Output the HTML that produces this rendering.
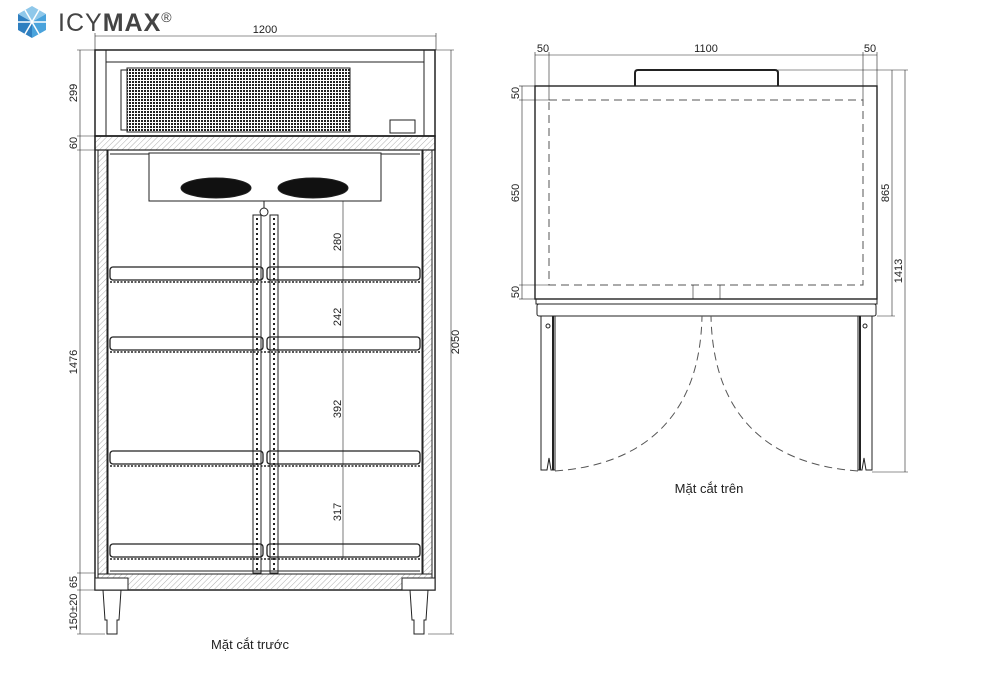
<!DOCTYPE html>
<html><head><meta charset="utf-8"><style>
html,body{margin:0;padding:0;background:#fff;}
svg{display:block;font-family:"Liberation Sans",sans-serif;}
</style></head><body>
<svg width="1000" height="678" viewBox="0 0 1000 678" xmlns="http://www.w3.org/2000/svg">
<defs>
<pattern id="h" width="4" height="4" patternUnits="userSpaceOnUse" patternTransform="rotate(45)"><line x1="0" y1="0" x2="0" y2="4" stroke="#999" stroke-width="0.8"/></pattern>
<pattern id="g" width="3" height="3" patternUnits="userSpaceOnUse"><rect width="3" height="3" fill="#fff"/><rect width="2" height="2" fill="#222"/></pattern>
</defs>
<!-- logo -->
<g transform="translate(32,22)">
<polygon points="0,-16 14,-8 0,0 -14,-8" fill="#8fc8ea"/>
<polygon points="-14,-8 0,0 0,16 -14,8" fill="#2f7fc0"/>
<polygon points="14,-8 0,0 0,16 14,8" fill="#4aa3dc"/>
<line x1="-14" y1="0" x2="14" y2="0" stroke="#fff" stroke-width="1.5"/>
<line x1="-7" y1="-12" x2="7" y2="12" stroke="#fff" stroke-width="1.5"/>
<line x1="7" y1="-12" x2="-7" y2="12" stroke="#fff" stroke-width="1.5"/>
</g>
<text x="58" y="31" font-size="25" fill="#444" letter-spacing="1">ICY<tspan font-weight="bold">MAX</tspan><tspan font-size="14" dy="-9">®</tspan></text>

<g stroke="#222" fill="none" stroke-width="1">
<!-- FRONT VIEW -->
<line x1="95" y1="36" x2="436" y2="36" stroke-width="0.6"/>
<line x1="95" y1="33" x2="95" y2="50" stroke-width="0.6"/><line x1="436" y1="33" x2="436" y2="50" stroke-width="0.6"/>
<rect x="95" y="50" width="340" height="86" stroke-width="1.5"/>
<line x1="106" y1="50" x2="106" y2="136"/><line x1="424" y1="50" x2="424" y2="136"/>
<line x1="106" y1="62" x2="424" y2="62"/>
<rect x="127" y="68" width="223" height="64" fill="url(#g)" stroke-width="1"/>
<rect x="121" y="70" width="6" height="60"/>
<rect x="390" y="120" width="25" height="13"/>
<!-- top slab -->
<rect x="95" y="136" width="340" height="14" fill="url(#h)" stroke-width="1.2"/>
<!-- body -->
<rect x="95" y="136" width="340" height="454" stroke-width="1.5"/>
<rect x="98" y="150" width="9" height="424" fill="url(#h)"/>
<rect x="423" y="150" width="9" height="424" fill="url(#h)"/>
<rect x="108" y="150" width="314" height="424"/>
<line x1="110" y1="154" x2="420" y2="154"/>
<!-- evaporator -->
<rect x="149" y="153" width="232" height="48" fill="#fff"/>
<ellipse cx="216" cy="188" rx="35" ry="10" fill="#111"/>
<ellipse cx="313" cy="188" rx="35" ry="10" fill="#111"/>
<circle cx="264" cy="212" r="4"/><line x1="264" y1="201" x2="264" y2="208"/>
<!-- posts -->
<rect x="253" y="215" width="8" height="358"/>
<rect x="270" y="215" width="8" height="358"/>
<line x1="257" y1="218" x2="257" y2="571" stroke-dasharray="2,3" stroke-width="2"/>
<line x1="274" y1="218" x2="274" y2="571" stroke-dasharray="2,3" stroke-width="2"/>
<!-- shelves -->
<g>
<rect x="110" y="267" width="153" height="13" rx="3" stroke-width="1.3"/><rect x="267" y="267" width="153" height="13" rx="3" stroke-width="1.3"/>
<line x1="110" y1="282" x2="420" y2="282" stroke-dasharray="2,1.5" stroke-width="1.4"/>
<rect x="110" y="337" width="153" height="13" rx="3" stroke-width="1.3"/><rect x="267" y="337" width="153" height="13" rx="3" stroke-width="1.3"/>
<line x1="110" y1="352" x2="420" y2="352" stroke-dasharray="2,1.5" stroke-width="1.4"/>
<rect x="110" y="451" width="153" height="13" rx="3" stroke-width="1.3"/><rect x="267" y="451" width="153" height="13" rx="3" stroke-width="1.3"/>
<line x1="110" y1="466" x2="420" y2="466" stroke-dasharray="2,1.5" stroke-width="1.4"/>
<rect x="110" y="544" width="153" height="13" rx="3" stroke-width="1.3"/><rect x="267" y="544" width="153" height="13" rx="3" stroke-width="1.3"/>
<line x1="110" y1="559" x2="420" y2="559" stroke-dasharray="2,1.5" stroke-width="1.4"/>
<line x1="110" y1="571" x2="420" y2="571"/>
</g>
<!-- base -->
<rect x="98" y="574" width="334" height="16" fill="url(#h)"/>
<rect x="95" y="578" width="33" height="12" fill="#fff"/>
<rect x="402" y="578" width="33" height="12" fill="#fff"/>
<path d="M103 590 L121 590 L119 620 L117 620 L117 634 L107 634 L107 620 L105 620 Z"/>
<path d="M410 590 L428 590 L426 620 L424 620 L424 634 L414 634 L414 620 L412 620 Z"/>
<!-- dims front -->
<g stroke-width="0.6">
<line x1="80" y1="50" x2="80" y2="634"/>
<line x1="77" y1="50" x2="95" y2="50"/><line x1="77" y1="136" x2="95" y2="136"/><line x1="77" y1="150" x2="95" y2="150"/>
<line x1="77" y1="573" x2="95" y2="573"/><line x1="77" y1="590" x2="95" y2="590"/><line x1="77" y1="634" x2="105" y2="634"/>
<line x1="451" y1="50" x2="451" y2="634"/>
<line x1="435" y1="50" x2="454" y2="50"/><line x1="428" y1="634" x2="454" y2="634"/>
<line x1="343" y1="201" x2="343" y2="559"/>
</g>
<!-- TOP VIEW -->
<rect x="535" y="86" width="342" height="213" stroke-width="1.4"/>
<rect x="549" y="100" width="314" height="185" stroke-dasharray="8,5" stroke="#555"/>
<path d="M635 86 L635 73 Q635 70 638 70 L775 70 Q778 70 778 73 L778 86" stroke-width="2"/>
<line x1="693" y1="285" x2="693" y2="299" stroke-width="0.6"/><line x1="720" y1="285" x2="720" y2="299" stroke-width="0.6"/>
<rect x="536" y="299" width="341" height="5"/>
<rect x="537" y="304" width="339" height="12" rx="2"/>
<path d="M541 316 L555 316 L555 470 L551 470 L549 458 L547 470 L541 470 Z"/>
<line x1="553" y1="316" x2="553" y2="470" stroke-width="2"/>
<path d="M872 316 L858 316 L858 470 L862 470 L864 458 L866 470 L872 470 Z"/>
<line x1="860" y1="316" x2="860" y2="470" stroke-width="2"/>
<circle cx="548" cy="326" r="2"/><circle cx="865" cy="326" r="2"/>
<path d="M555 471 C640 465 700 420 702 316" stroke-dasharray="8,5" stroke="#555"/>
<path d="M858 471 C773 465 713 420 711 316" stroke-dasharray="8,5" stroke="#555"/>
<g stroke-width="0.6">
<line x1="535" y1="55" x2="877" y2="55"/>
<line x1="535" y1="52" x2="535" y2="86"/><line x1="549" y1="52" x2="549" y2="100"/><line x1="863" y1="52" x2="863" y2="100"/><line x1="877" y1="52" x2="877" y2="86"/>
<line x1="522" y1="86" x2="522" y2="299"/>
<line x1="519" y1="86" x2="535" y2="86"/><line x1="519" y1="100" x2="549" y2="100"/><line x1="519" y1="285" x2="549" y2="285"/><line x1="519" y1="299" x2="535" y2="299"/>
<line x1="892" y1="70" x2="892" y2="316"/><line x1="905" y1="70" x2="905" y2="472"/>
<line x1="778" y1="70" x2="908" y2="70"/><line x1="877" y1="316" x2="895" y2="316"/><line x1="872" y1="472" x2="908" y2="472"/>
</g>
</g>
<g font-size="11" fill="#222">
<text x="265" y="33" text-anchor="middle">1200</text>
<text x="706" y="52" text-anchor="middle">1100</text>
<text x="543" y="52" text-anchor="middle">50</text>
<text x="870" y="52" text-anchor="middle">50</text>
<g text-anchor="middle">
<text transform="translate(77,93) rotate(-90)">299</text>
<text transform="translate(77,143) rotate(-90)">60</text>
<text transform="translate(77,362) rotate(-90)">1476</text>
<text transform="translate(77,582) rotate(-90)">65</text>
<text transform="translate(77,612) rotate(-90)">150±20</text>
<text transform="translate(459,342) rotate(-90)">2050</text>
<text transform="translate(341,242) rotate(-90)">280</text>
<text transform="translate(341,317) rotate(-90)">242</text>
<text transform="translate(341,409) rotate(-90)">392</text>
<text transform="translate(341,512) rotate(-90)">317</text>
<text transform="translate(519,93) rotate(-90)">50</text>
<text transform="translate(519,193) rotate(-90)">650</text>
<text transform="translate(519,292) rotate(-90)">50</text>
<text transform="translate(889,193) rotate(-90)">865</text>
<text transform="translate(902,271) rotate(-90)">1413</text>
</g>
</g>
<text x="250" y="649" font-size="13" fill="#222" text-anchor="middle">Mặt cắt trước</text>
<text x="709" y="493" font-size="13" fill="#222" text-anchor="middle">Mặt cắt trên</text>
</svg>
</body></html>
